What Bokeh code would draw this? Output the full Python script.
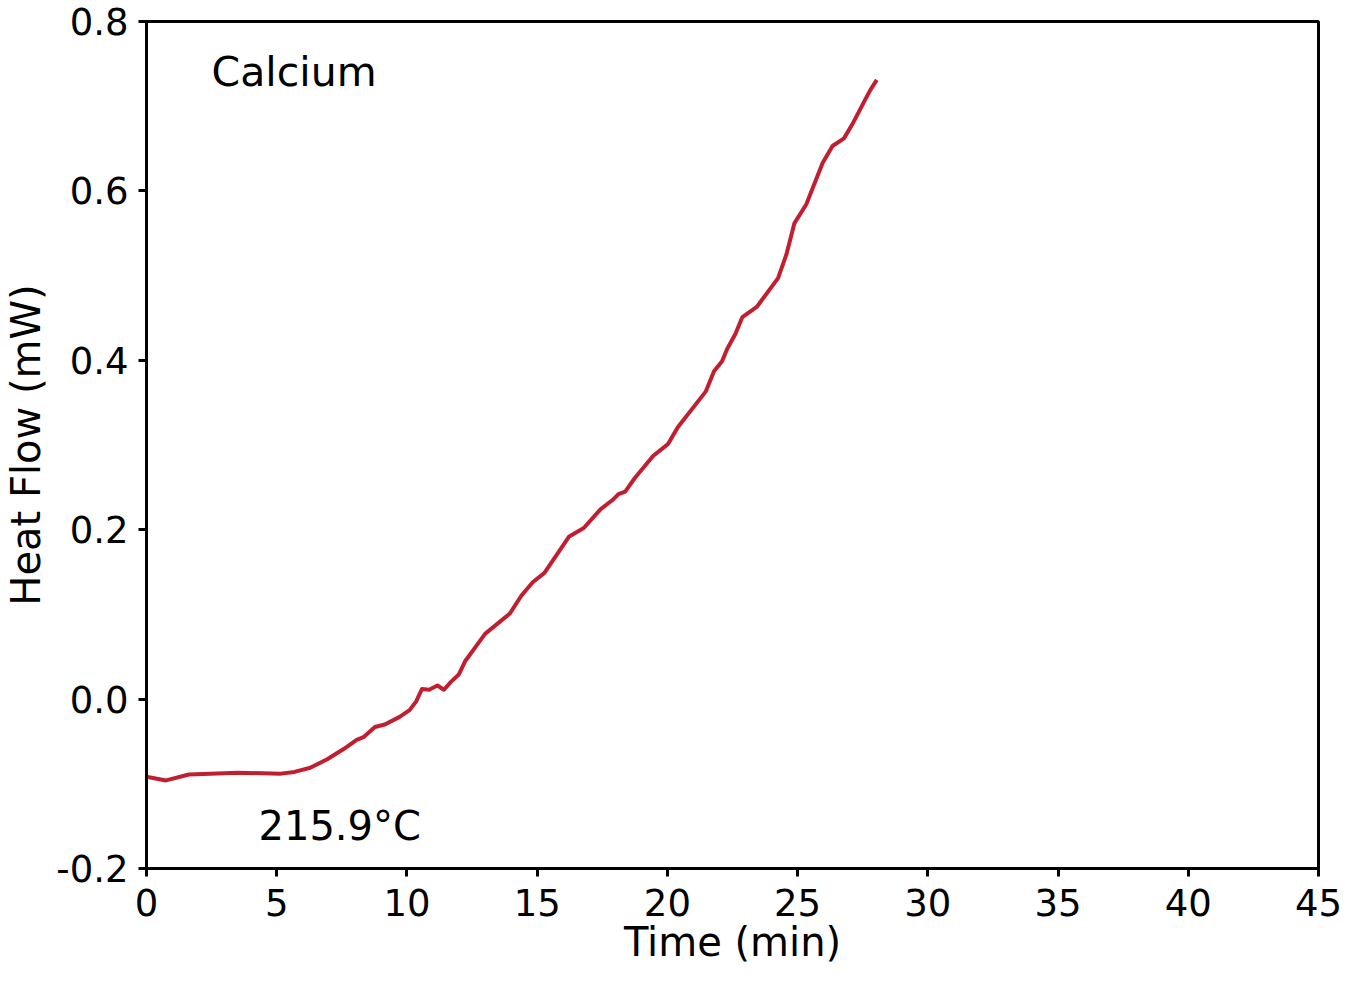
from bokeh.plotting import figure
from bokeh.models import FixedTicker, PrintfTickFormatter, Range1d, Label
from bokeh.embed import file_html
from bokeh.resources import INLINE

time_min = [0.05, 0.75, 1.63, 3.53, 5.16, 5.68, 6.29, 6.94, 7.57, 8.07, 8.33, 8.77, 9.15,
            9.72, 10.10, 10.35, 10.58, 10.85, 11.17, 11.42, 11.68, 11.99, 12.24, 13.0,
            13.95, 14.39, 14.83, 15.28, 16.23, 16.79, 17.43, 17.93, 18.12, 18.38, 18.75,
            19.45, 20.02, 20.40, 21.47, 21.79, 22.1, 22.29, 22.61, 22.88, 23.43, 24.25,
            24.57, 24.88, 25.33, 25.96, 26.34, 26.78, 27.09, 27.60, 27.79, 28.04]
heat_flow = [-0.092, -0.096, -0.089, -0.087, -0.088, -0.086, -0.081, -0.071, -0.059, -0.048,
             -0.045, -0.033, -0.030, -0.021, -0.013, -0.003, 0.012, 0.011, 0.016, 0.011,
             0.020, 0.029, 0.045, 0.077, 0.101, 0.122, 0.138, 0.149, 0.192, 0.202, 0.224,
             0.236, 0.242, 0.245, 0.261, 0.287, 0.301, 0.321, 0.363, 0.387, 0.399, 0.413,
             0.431, 0.451, 0.463, 0.497, 0.525, 0.562, 0.584, 0.633, 0.653, 0.662, 0.678,
             0.708, 0.719, 0.731]
x_ticks = [0, 5, 10, 15, 20, 25, 30, 35, 40, 45]
y_ticks = [-0.2, 0.0, 0.2, 0.4, 0.6, 0.8]

FONT = "DejaVu Sans"

p = figure(width=1342, height=979, output_backend="svg", toolbar_location=None,
           x_range=Range1d(0, 45), y_range=Range1d(-0.2, 0.8),
           min_border_left=145, min_border_top=21, min_border_right=24, min_border_bottom=111)

p.line(time_min, heat_flow, line_color="#C11F30", line_width=4, line_join="round")

p.grid.visible = False
p.outline_line_color = "black"
p.outline_line_width = 3
p.background_fill_color = "white"
p.border_fill_color = "white"

for ax in (p.xaxis[0], p.yaxis[0]):
    ax.axis_line_width = 3
    ax.axis_line_color = "black"
    ax.major_tick_line_width = 3
    ax.major_tick_in = 0
    ax.major_tick_out = 8
    ax.minor_tick_line_color = None
    ax.major_label_text_font = FONT
    ax.major_label_text_font_size = "37px"
    ax.major_label_text_color = "black"
    ax.axis_label_text_font = FONT
    ax.axis_label_text_font_size = "40px"
    ax.axis_label_text_font_style = "normal"
    ax.axis_label_text_color = "black"

p.xaxis.ticker = FixedTicker(ticks=x_ticks)
p.yaxis.ticker = FixedTicker(ticks=y_ticks)
p.yaxis.formatter = PrintfTickFormatter(format="%.1f")
p.xaxis.axis_label = "Time (min)"
p.yaxis.axis_label = "Heat Flow (mW)"
p.xaxis.major_label_standoff = 12
p.yaxis.major_label_standoff = 10
p.xaxis.axis_label_standoff = 0
p.yaxis.axis_label_standoff = 4

p.add_layout(Label(x=2.5, y=0.740, text="Calcium", text_font=FONT, text_font_size="41px",
                   text_color="black", text_baseline="middle", text_align="left"))
p.add_layout(Label(x=4.3, y=-0.1495, text="215.9°C", text_font=FONT, text_font_size="40px",
                   text_color="black", text_baseline="middle", text_align="left"))

open("out.html", "w").write(file_html(p, INLINE))
